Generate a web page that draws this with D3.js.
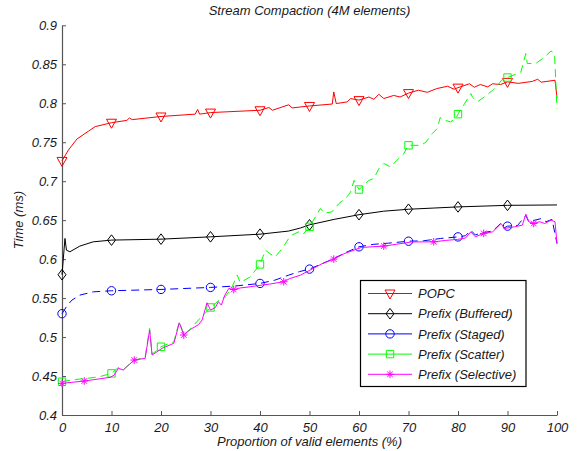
<!DOCTYPE html>
<html><head><meta charset="utf-8">
<script src="https://cdn.jsdelivr.net/npm/d3@7/dist/d3.min.js"></script>
<style>
body{margin:0;background:#fff}
svg{display:block}
text{font-family:"Liberation Sans",Arial,Helvetica,sans-serif;font-style:italic}
</style>
</head><body>
<svg id="c" width="577" height="451"></svg>
<script>
// ---------------- data ----------------
const chartTitle = "Stream Compaction (4M elements)";
const xLabel = "Proportion of valid elements (%)";
const yLabel = "Time (ms)";
const xTicks = [0,10,20,30,40,50,60,70,80,90,100];
const yTicks = [0.4,0.45,0.5,0.55,0.6,0.65,0.7,0.75,0.8,0.85,0.9];
const yTickLabels = ["0.4","0.45","0.5","0.55","0.6","0.65","0.7","0.75","0.8","0.85","0.9"];
const seriesNames = ["POPC","Prefix (Buffered)","Prefix (Staged)","Prefix (Scatter)","Prefix (Selective)"];

const popcX = [0,1.3,3,5.3,6.7,10,13.1,13.6,14.2,20,26.9,27.4,27.8,30,40,41.8,42.5,45.8,46.5,50,54.6,54.9,55.4,57.6,58.3,60,62,63,64,65,67,68.3,70,72,73.8,75.7,77.9,79.2,80,82.3,83.3,84.5,86,87,88.6,90,92.2,95,96.1,96.8,99.6,100];
const popcY = [0.726,0.740,0.754,0.764,0.770,0.775,0.778,0.781,0.779,0.783,0.786,0.792,0.786,0.788,0.791,0.7945,0.791,0.798,0.794,0.7965,0.799,0.8145,0.7996,0.8017,0.806,0.804,0.808,0.805,0.8115,0.806,0.810,0.808,0.813,0.8167,0.814,0.8188,0.8218,0.818,0.820,0.825,0.8205,0.824,0.821,0.825,0.824,0.8274,0.8255,0.828,0.8308,0.827,0.8295,0.807];
const popcMarks = [0,10,20,30,40,50,60,70,80,90];

const bufX = [0,0.6,0.9,1.6,3.6,6.3,10,20,30,40,45.8,48.2,50,55,60,65,70,75,80,90,100];
const bufY = [0.580,0.6265,0.6115,0.6094,0.6167,0.6222,0.6244,0.6256,0.6286,0.632,0.636,0.640,0.644,0.651,0.657,0.6615,0.664,0.6655,0.667,0.669,0.6695];
const bufMarks = [0,10,20,30,40,50,60,70,80,90];

const stagedX = [0,1,2,3.6,6.3,10,20,30,35,40,43,45.8,48,50,52.5,55,57.5,60,63,66,70,73,76.5,80,81.5,82.6,83.5,85,87,88.6,89.3,90,92,93.7,94.3,96.8,97.8,99,100];
const stagedY = [0.530,0.540,0.5474,0.5538,0.558,0.5594,0.5611,0.5637,0.5655,0.5688,0.573,0.5795,0.584,0.5872,0.594,0.601,0.609,0.6158,0.619,0.6205,0.623,0.6235,0.6265,0.6285,0.630,0.637,0.631,0.634,0.636,0.6457,0.640,0.6423,0.643,0.656,0.648,0.652,0.648,0.651,0.620];
const stagedMarks = [0,10,20,30,40,50,60,70,80,90];

const scatterX = [0,2,5,7.5,10,11.4,12.4,13.1,14.6,16.8,17.7,18.2,20,22.6,23.7,24.6,26,28,29,30,31.5,33,34.2,35.4,36,38,40,41.1,42,43.1,44.5,45.8,46.5,47.8,48.7,50,52.2,53,54.5,55.9,57.6,58.3,59,60,62,63,64,65,66.4,67.7,69,70,72.5,73.5,74.8,75.8,76.4,76.9,78.5,79.6,80,82.6,82.9,83.9,85.3,87,88,88.8,90,92,92.7,93.7,94,95.7,97.1,98.8,99.5,100];
const scatterY = [0.4427,0.445,0.447,0.449,0.4534,0.461,0.458,0.4625,0.470,0.4745,0.511,0.478,0.4876,0.494,0.520,0.503,0.511,0.525,0.531,0.538,0.546,0.552,0.562,0.5795,0.570,0.577,0.5932,0.6115,0.607,0.603,0.6137,0.6265,0.631,0.635,0.632,0.6414,0.665,0.659,0.6605,0.671,0.680,0.6863,0.701,0.6893,0.701,0.7035,0.716,0.7227,0.7184,0.727,0.735,0.746,0.746,0.750,0.761,0.7675,0.7817,0.779,0.776,0.781,0.786,0.8124,0.808,0.8017,0.808,0.8167,0.823,0.8295,0.833,0.838,0.840,0.8637,0.851,0.851,0.8573,0.867,0.8637,0.793];
const scatterMarks = [0,10,20,30,40,50,60,70,80,90];

const selX = [0,4.5,9.7,10.5,11.4,12.4,13.1,14.6,16.8,17.7,18.2,20.2,22.6,23.7,24.6,26,27.6,28.3,29.3,30,31,31.6,32.2,32.9,33.7,34.7,36,38,40.4,42,44.8,46,48.2,50.5,52.5,54.9,57,60.5,65,67.5,70.6,75.1,77.5,79.9,81.5,82.6,83.5,85.2,87,88.7,89.4,91.4,93,93.7,94.3,95.3,96.5,97.5,98.8,99.6,100];
const selY = [0.4406,0.4436,0.4483,0.451,0.4599,0.4577,0.462,0.4705,0.4727,0.509,0.4769,0.4855,0.492,0.5183,0.5026,0.510,0.516,0.5218,0.544,0.5346,0.538,0.5453,0.541,0.5538,0.5624,0.561,0.563,0.5645,0.5667,0.568,0.571,0.575,0.5795,0.5872,0.594,0.600,0.607,0.615,0.6167,0.619,0.622,0.6222,0.624,0.6253,0.627,0.635,0.6286,0.633,0.635,0.6457,0.6393,0.6414,0.6436,0.6577,0.648,0.6457,0.648,0.6457,0.650,0.648,0.620];
const selMarks = [0,4.5,14.6,24.6,34.7,44.8,54.9,65,75.1,85.2,95.3];

// ---------------- drawing ----------------
const svg = d3.select("#c");
const x = d3.scaleLinear().domain([0,100]).range([62,557]);
const y = d3.scaleLinear().domain([0.4,0.9]).range([415,25.3]);
const axisColor = "#555";

// axes
const gx = svg.append("g").attr("transform",`translate(0,${y(0.4)})`)
  .call(d3.axisBottom(x).tickValues(xTicks).tickFormat(d=>String(d)).tickSizeInner(-4).tickSizeOuter(0).tickPadding(8));
const gy = svg.append("g").attr("transform",`translate(${x(0)},0)`)
  .call(d3.axisLeft(y).tickValues(yTicks).tickFormat((d,i)=>yTickLabels[i]).tickSizeInner(-4).tickSizeOuter(0).tickPadding(5));
[gx,gy].forEach(g=>{
  g.select(".domain").attr("stroke",axisColor).attr("stroke-width",1.2);
  g.selectAll(".tick line").attr("stroke",axisColor);
  g.selectAll(".tick text").attr("fill","#1a1a1a").attr("font-size",13)
    .attr("font-family",'"Liberation Sans",Arial,sans-serif').attr("font-style","italic");
});

svg.append("text").attr("x",(x(0)+x(100))/2).attr("y",15).attr("text-anchor","middle")
  .attr("font-size",13).attr("fill","#1a1a1a").text(chartTitle);
svg.append("text").attr("x",(x(0)+x(100))/2).attr("y",446).attr("text-anchor","middle")
  .attr("font-size",13).attr("fill","#1a1a1a").text(xLabel);
svg.append("text").attr("transform",`translate(23,${(y(0.4)+y(0.9))/2}) rotate(-90)`)
  .attr("text-anchor","middle").attr("font-size",13).attr("fill","#1a1a1a").text(yLabel);

// marker shapes
function markerPath(type, cx, cy){
  switch(type){
    case "tri": return `M${cx-5},${cy-3.5}L${cx+5},${cy-3.5}L${cx},${cy+5.5}Z`;
    case "dia": return `M${cx},${cy-5.3}L${cx+4},${cy}L${cx},${cy+5.3}L${cx-4},${cy}Z`;
    case "circ": { const r=4.2; return `M${cx-r},${cy}a${r},${r} 0 1,0 ${2*r},0a${r},${r} 0 1,0 ${-2*r},0Z`; }
    case "sq": return `M${cx-3.7},${cy-3.7}h7.4v7.4h-7.4Z`;
    case "star": { const s=3.8, d=2.8;
      return `M${cx-s},${cy}H${cx+s}M${cx},${cy-s}V${cy+s}M${cx-d},${cy-d}L${cx+d},${cy+d}M${cx-d},${cy+d}L${cx+d},${cy-d}`; }
  }
}

const series = [
  {name:seriesNames[0], xs:popcX, ys:popcY, marks:popcMarks, color:"#ff0000", dash:null, marker:"tri"},
  {name:seriesNames[1], xs:bufX, ys:bufY, marks:bufMarks, color:"#000000", dash:null, marker:"dia"},
  {name:seriesNames[2], xs:stagedX, ys:stagedY, marks:stagedMarks, color:"#0000ff", dash:"8,5", marker:"circ"},
  {name:seriesNames[3], xs:scatterX, ys:scatterY, marks:scatterMarks, color:"#00ff00", dash:"8,5", marker:"sq"},
  {name:seriesNames[4], xs:selX, ys:selY, marks:selMarks, color:"#ff00ff", dash:null, marker:"star"}
];

const line = d3.line().x(d=>x(d[0])).y(d=>y(d[1]));
series.forEach(s=>{
  const pts = s.xs.map((v,i)=>[v,s.ys[i]]);
  svg.append("path").datum(pts).attr("d",line).attr("fill","none")
    .attr("stroke",s.color).attr("stroke-width",1)
    .attr("stroke-dasharray",s.dash);
  const mpts = s.marks.map(m=>{const i=s.xs.indexOf(m); return [m,s.ys[i]];});
  svg.append("g").selectAll("path").data(mpts).join("path")
    .attr("d",d=>markerPath(s.marker,x(d[0]),y(d[1])))
    .attr("fill","none").attr("stroke",s.color).attr("stroke-width",1);
});

// legend
const lg = svg.append("g");
lg.append("rect").attr("x",360.5).attr("y",280.5).attr("width",165.5).attr("height",106)
  .attr("fill","#fff").attr("stroke","#000").attr("stroke-width",1.2);
series.forEach((s,i)=>{
  const cy = 293.5 + i*20.2;
  lg.append("line").attr("x1",368).attr("x2",412).attr("y1",cy).attr("y2",cy)
    .attr("stroke",s.color).attr("stroke-width",1);
  lg.append("path").attr("d",markerPath(s.marker,390,cy)).attr("fill","none").attr("stroke",s.color);
  lg.append("text").attr("x",418).attr("y",cy+4.6).attr("font-size",13).attr("fill","#1a1a1a").text(s.name);
});
</script>
</body></html>
